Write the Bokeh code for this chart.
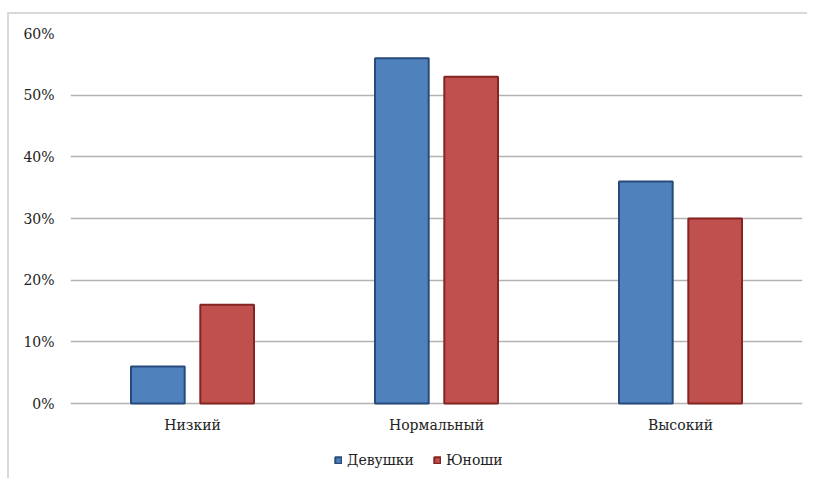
from bokeh.plotting import figure
from bokeh.models import ColumnDataSource, FixedTicker, NumeralTickFormatter, Legend, LegendItem
from bokeh.transform import dodge
from bokeh.embed import file_html
from bokeh.resources import INLINE

categories = ["Низкий", "Нормальный", "Высокий"]
girls = [0.06, 0.56, 0.36]
boys = [0.16, 0.53, 0.30]
series_names = ["Девушки", "Юноши"]
y_ticks = [0.0, 0.1, 0.2, 0.3, 0.4, 0.5, 0.6]

FONT = "DejaVu Serif"
TEXT = "#222222"

# geometry (pixels): value area 370px tall, frame extended below 0 to hold labels + legend
VALUE_PX = 370
FRAME_PX = 437
y_top = 0.6
y_bottom = -(FRAME_PX - VALUE_PX) * y_top / VALUE_PX

src = ColumnDataSource(dict(cat=categories, girls=girls, boys=boys))

p = figure(x_range=categories, y_range=(y_bottom, y_top), width=800, height=466,
           output_backend="svg", toolbar_location=None,
           min_border_left=61, min_border_right=7, min_border_top=19, min_border_bottom=10,
           margin=(12, 0, 0, 7),
           styles={"border-top": "2px solid #d9d9d9", "border-left": "2px solid #d9d9d9"})
p.x_range.range_padding = 0
p.outline_line_color = None
p.background_fill_color = "white"
p.border_fill_color = "white"

r1 = p.vbar(x=dodge("cat", -0.142, range=p.x_range), top="girls", width=0.22, source=src,
            fill_color="#4F81BD", line_color="#284b7c", line_width=2)
r2 = p.vbar(x=dodge("cat", 0.142, range=p.x_range), top="boys", width=0.22, source=src,
            fill_color="#C0504D", line_color="#842523", line_width=2)

p.xgrid.grid_line_color = None
p.ygrid.grid_line_color = "#b3b3b3"
p.ygrid.grid_line_width = 1.5
p.yaxis.ticker = FixedTicker(ticks=y_ticks)
p.yaxis.formatter = NumeralTickFormatter(format="0%")

for ax in (p.xaxis[0], p.yaxis[0]):
    ax.axis_line_color = None
    ax.major_tick_line_color = None
    ax.minor_tick_line_color = None
    ax.major_tick_in = 0
    ax.major_tick_out = 0
    ax.major_label_text_font = FONT
    ax.major_label_text_font_size = "14px"
    ax.major_label_text_color = TEXT
p.yaxis.major_label_standoff = 16
p.xaxis.major_label_standoff = -54

legend = Legend(items=[LegendItem(label=series_names[0], renderers=[r1]),
                       LegendItem(label=series_names[1], renderers=[r2])],
                orientation="horizontal", location=(264, 2),
                glyph_width=8, glyph_height=8, label_standoff=5, spacing=19,
                padding=0, margin=0, border_line_color=None, background_fill_alpha=0,
                label_text_font=FONT, label_text_font_size="14px", label_text_color=TEXT,
                label_height=14)
p.add_layout(legend, "center")

open("out.html", "w").write(file_html(p, INLINE))
